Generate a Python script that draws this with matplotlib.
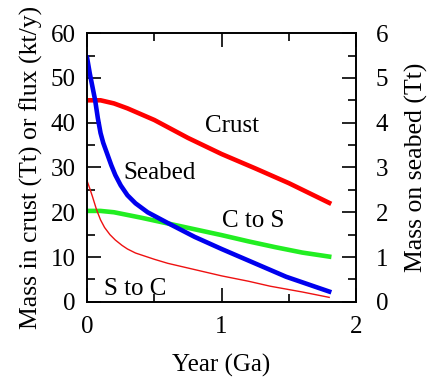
import numpy as np
import matplotlib.pyplot as plt
from matplotlib.ticker import MultipleLocator

plt.rcParams['font.family'] = ['Liberation Serif', 'DejaVu Serif']

# ----------------------------------------------------------------------
# Data
# ----------------------------------------------------------------------

# crust mass (Tt), left axis
crust_t = [0.0, 0.1, 0.2, 0.3, 0.5, 0.75, 1.0, 1.25, 1.5, 1.8]
crust_m = [45.0, 45.0, 44.3, 43.2, 40.6, 36.6, 33.0, 29.8, 26.5, 22.1]

# seabed mass (Tt), right axis
seabed_t = [0.0, 0.02, 0.04, 0.06, 0.08, 0.1, 0.12, 0.15, 0.18, 0.21,
            0.25, 0.3, 0.36, 0.45, 0.6, 0.8, 1.0, 1.24, 1.48, 1.8]
seabed_m = [5.45, 5.1, 4.8, 4.5, 4.1, 3.77, 3.55, 3.3, 3.05, 2.83,
            2.6, 2.38, 2.2, 2.0, 1.76, 1.45, 1.18, 0.87, 0.56, 0.23]

# crust -> seabed flux (kt/y), left axis
cs_t = [0.0, 0.1, 0.2, 0.4, 0.6, 0.8, 1.0, 1.2, 1.4, 1.6, 1.8]
cs_f = [20.3, 20.3, 20.0, 18.8, 17.5, 16.2, 14.9, 13.5, 12.2, 11.0, 10.1]

# seabed -> crust flux (kt/y), left axis
sc_t = [0.0, 0.02, 0.04, 0.07, 0.1, 0.13, 0.17, 0.21, 0.26, 0.3, 0.36,
        0.5, 0.6, 0.8, 1.0, 1.2, 1.36, 1.6, 1.8]
sc_f = [27.0, 25.3, 23.5, 20.6, 18.3, 16.6, 15.0, 13.8, 12.6, 11.8, 10.9,
        9.5, 8.6, 7.2, 5.8, 4.6, 3.5, 2.2, 1.0]

fs = 18
fs_lab = 18.5

fig = plt.figure(figsize=(4.29, 3.85), dpi=100)
ax = fig.add_axes([0.203, 0.216, 0.627, 0.698])
ax2 = ax.twinx()

ax.plot(crust_t, crust_m, color='#ff0000', lw=3.3)
ax.plot(cs_t, cs_f, color='#22ee22', lw=3.3)
ax.plot(sc_t, sc_f, color='#ee1111', lw=1.0)
ax2.plot(seabed_t, seabed_m, color='#0000ee', lw=3.3)

ax.set_xlim(0, 2)
ax.set_ylim(0, 60)
ax2.set_ylim(0, 6)

ax.xaxis.set_major_locator(MultipleLocator(1))
ax.xaxis.set_minor_locator(MultipleLocator(0.5))
ax.yaxis.set_major_locator(MultipleLocator(10))
ax.yaxis.set_minor_locator(MultipleLocator(5))
ax2.yaxis.set_major_locator(MultipleLocator(1))
ax2.yaxis.set_minor_locator(MultipleLocator(0.5))

ax.tick_params(which='both', direction='in', top=True, right=False,
               width=1.2, labelsize=fs)
ax.tick_params(which='major', length=10)
ax.tick_params(which='minor', length=6)
ax.tick_params(axis='x', which='major', pad=10)
ax.tick_params(axis='y', which='major', pad=8)
ax2.tick_params(which='both', direction='in', width=1.2, labelsize=fs)
ax2.tick_params(which='major', length=10, pad=14)
ax2.tick_params(which='minor', length=6)

for a in (ax, ax2):
    for s in a.spines.values():
        s.set_linewidth(1.2)

ax.set_xlabel('Year (Ga)', fontsize=fs, labelpad=12)
ax.set_ylabel('Mass in crust (Tt) or flux (kt/y)', fontsize=fs_lab, labelpad=6)
ax2.set_ylabel('Mass on seabed (Tt)', fontsize=fs_lab, labelpad=12)

ax.text(0.877, 39.3, 'Crust', fontsize=fs, va='center')
ax.text(0.27, 28.8, 'Seabed', fontsize=fs, va='center')
ax.text(1.0, 18.1, 'C to S', fontsize=fs, va='center')
ax.text(0.127, 2.9, 'S to C', fontsize=fs, va='center')

fig.savefig('out.png', dpi=100)
plt.close()
